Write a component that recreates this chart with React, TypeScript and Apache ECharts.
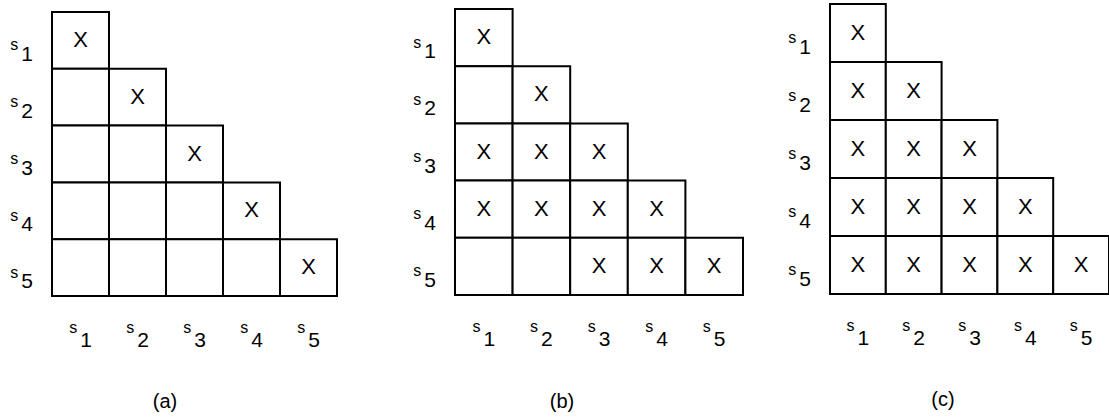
import React, { useEffect, useRef } from "react";
import * as echarts from "echarts";

const categories = ["s1", "s2", "s3", "s4", "s5"];
const panelLabels = ["(a)", "(b)", "(c)"];
// lower-triangular relation matrices: row i holds columns 0..i, 1 = "X"
const relationA = [[1], [0, 1], [0, 0, 1], [0, 0, 0, 1], [0, 0, 0, 0, 1]];
const relationB = [[1], [0, 1], [1, 1, 1], [1, 1, 1, 1], [0, 0, 1, 1, 1]];
const relationC = [[1], [1, 1], [1, 1, 1], [1, 1, 1, 1], [1, 1, 1, 1, 1]];
const relations = [relationA, relationB, relationC];

const FONT = "'Liberation Sans', Arial, sans-serif";

const grids = [
  { left: 52, top: 12, width: 285, height: 284 },
  { left: 455, top: 9, width: 288, height: 286 },
  { left: 830, top: 4, width: 291, height: 290 },
];
const captionPos = [
  [165, 401],
  [562, 401],
  [943, 399],
];

const richX = {
  s: { fontSize: 16, lineHeight: 16, verticalAlign: "top", fontFamily: FONT, color: "#000", padding: [0, 3, 0, 0] },
  d: { fontSize: 21, lineHeight: 31, verticalAlign: "bottom", fontFamily: FONT, color: "#000" },
};
const richY = {
  s: { fontSize: 16, lineHeight: 16, verticalAlign: "top", fontFamily: FONT, color: "#000", padding: [0, 3, 0, 0] },
  d: { fontSize: 21, lineHeight: 27, verticalAlign: "bottom", fontFamily: FONT, color: "#000" },
};
const fmt = (v: string) => `{s|${v.slice(0, 1)}}{d|${v.slice(1)}}`;

export default function App() {
  const ref = useRef<HTMLDivElement>(null);
  useEffect(() => {
    if (!ref.current) return;
    const chart = echarts.init(ref.current, null, { renderer: "svg" });
    const xAxis = grids.map((_, i) => ({
      type: "category",
      gridIndex: i,
      data: categories,
      axisLine: { show: false },
      axisTick: { show: false },
      splitLine: { show: false },
      axisLabel: { interval: 0, margin: 23, formatter: fmt, rich: richX },
    }));
    const yAxis = grids.map((_, i) => ({
      type: "category",
      gridIndex: i,
      data: categories,
      inverse: true,
      axisLine: { show: false },
      axisTick: { show: false },
      splitLine: { show: false },
      axisLabel: { interval: 0, margin: 19, formatter: fmt, rich: richY, padding: [20, 0, 0, 0] },
    }));
    const series = relations.map((rel, i) => {
      const data: number[][] = [];
      rel.forEach((row, r) => row.forEach((v, c) => data.push([c, r, v])));
      return {
        type: "custom",
        xAxisIndex: i,
        yAxisIndex: i,
        clip: false,
        data,
        renderItem: (params: any, api: any) => {
          const c = api.coord([api.value(0), api.value(1)]);
          const s = api.size([1, 1]);
          const w = s[0];
          const h = s[1];
          const children: any[] = [
            {
              type: "rect",
              shape: { x: c[0] - w / 2, y: c[1] - h / 2, width: w, height: h },
              style: { fill: "#fff", stroke: "#000", lineWidth: 2 },
            },
          ];
          if (api.value(2) === 1) {
            children.push({
              type: "text",
              style: {
                text: "X",
                x: c[0],
                y: c[1] - 1,
                align: "center",
                verticalAlign: "middle",
                fontSize: 22,
                fontFamily: FONT,
                fill: "#000",
              },
            });
          }
          return { type: "group", children };
        },
      };
    });
    chart.setOption({
      animation: false,
      backgroundColor: "#fff",
      grid: grids.map((g) => ({ ...g, containLabel: false })),
      xAxis,
      yAxis,
      series,
      graphic: panelLabels.map((t, i) => ({
        type: "text",
        x: captionPos[i][0],
        y: captionPos[i][1],
        style: {
          text: t,
          align: "center",
          verticalAlign: "middle",
          fontSize: 20,
          fontFamily: FONT,
          fill: "#000",
        },
      })),
    });
    return () => chart.dispose();
  }, []);
  return (
    <div
      ref={ref}
      style={{ position: "fixed", left: 0, top: 0, width: 1109, height: 418, background: "#fff" }}
    />
  );
}
